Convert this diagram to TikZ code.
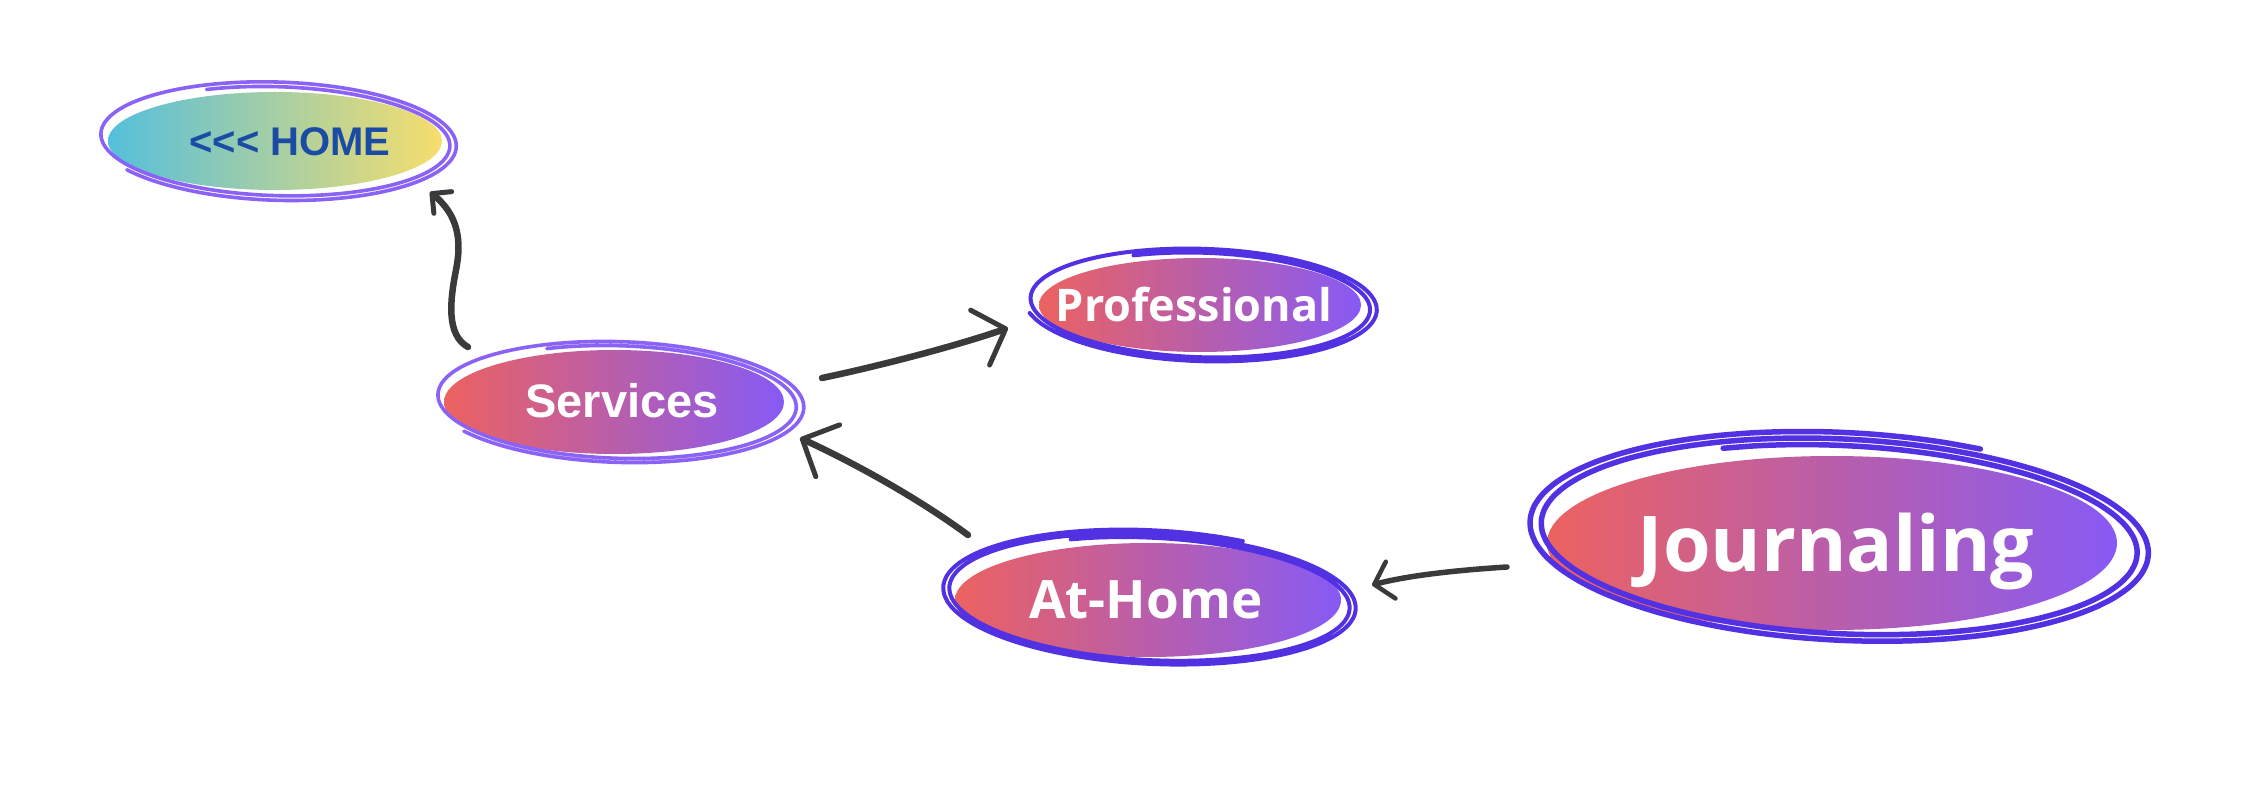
\documentclass[tikz,border=0pt]{standalone}
\usepackage{fontspec}
\setmainfont{Liberation Sans}
\newfontfamily\osans{Open Sans}
\usetikzlibrary{shapes.geometric,arrows.meta}
\definecolor{gradL}{HTML}{EC6260}
\definecolor{gradR}{HTML}{875AF5}
\definecolor{homeL}{HTML}{55BFDC}
\definecolor{homeR}{HTML}{F6DE6C}
\definecolor{hometext}{HTML}{1C4BA5}
\definecolor{ringL}{HTML}{8A63F6}
\definecolor{ringD}{HTML}{5231E2}
\definecolor{arrowcol}{HTML}{3A3A3A}
% #1 node, #2 rx0, #3 ry0, #4 drx, #5 dry, #6 sweep, #7 rotation, #8 style, #9 shift
\newcommand\sketchring[9]{%
  \begin{scope}[shift={(#1.center)}, shift={#9}, rotate=#7]
    \draw[#8, line cap=round, line join=round]
      plot[smooth, samples=110, domain=245:245+#6]
      ({(#2+#4*((\x-245)/#6))*cos(\x)}, {(#3+#5*((\x-245)/#6))*sin(\x)});
  \end{scope}}
\begin{document}
\begin{tikzpicture}[x=1pt, y=-1pt,
  blob/.style={ellipse, draw=none, inner sep=0pt},
  grad/.style={blob, left color=gradL, right color=gradR},
  txt/.style={inner sep=0pt, text depth=0pt, text=white},
  arr/.style={draw=arrowcol, line width=6.5pt, line cap=round, line join=round},
  lightring/.style={draw=ringL, line width=3.6pt},
  darkring/.style={draw=ringD, line width=4pt},
  thickring/.style={draw=ringD, line width=5.5pt}]
\fill[white] (0,0) rectangle (2246,810);
\useasboundingbox (0,0) rectangle (2246,810);

% filled ellipses
\node[blob, left color=homeL, right color=homeR, minimum width=334pt, minimum height=98pt] (home) at (275,141) {};
\node[grad, minimum width=340pt, minimum height=104pt] (services) at (614,402) {};
\node[grad, minimum width=322pt, minimum height=94pt] (prof) at (1200,305) {};
\node[grad, minimum width=386pt, minimum height=114pt] (athome) at (1148,600) {};
\node[grad, minimum width=570pt, minimum height=174pt] (journ) at (1832,543) {};

% sketchy outlines
\sketchring{home}{171}{53}{11}{8}{620}{-2}{lightring}{(2,-1)}
\sketchring{services}{175}{55}{13}{7}{620}{-2}{lightring}{(5,-1)}
\sketchring{prof}{166}{51}{12}{7}{640}{-2}{darkring}{(2,-1)}
\sketchring{athome}{197}{60}{13}{8}{770}{-3}{darkring}{(3,-2)}
\sketchring{journ}{292}{92}{24}{14}{770}{-3}{thickring}{(10,-5)}

% labels
\node[txt, text=hometext, text height=28.6pt, font=\fontsize{40}{44}\bfseries\selectfont] (home-t) at (290,141) {<\kern0pt<\kern0pt< HOME};
\node[txt, text height=33.7pt, font=\fontsize{47}{52}\bfseries\selectfont] (services-t) at (622,401) {Services};
\node[txt, text height=32pt, font=\osans\fontsize{45}{50}\bfseries\selectfont] (prof-t) at (1194,305) {Professional};
\node[txt, text height=37.8pt, font=\osans\fontsize{53}{58}\bfseries\selectfont] (athome-t) at (1146,600) {At-Home};
\node[txt, text height=55pt, font=\osans\fontsize{77}{85}\bfseries\selectfont] (journ-t) at (1836,544) {Journaling};

% connector end points
\coordinate (a1s) at ([shift={(-146,-55)}]services.center);
\coordinate (a1e) at ([shift={(155,51)}]home.center);
\coordinate (a2s) at ([shift={(208,-24)}]services.center);
\coordinate (a2e) at ([shift={(-192,23)}]prof.center);
\coordinate (a3s) at ([shift={(-180,-65)}]athome.center);
\coordinate (a3e) at ([shift={(186,36)}]services.center);
\coordinate (a4s) at ([shift={(-325,24)}]journ.center);
\coordinate (a4e) at ([shift={(224,-15)}]athome.center);

% connectors
\draw[arr, -{Straight Barb[length=14pt, width=28pt, line width=5pt, round]}]
  (a1s) .. controls (446,335) and (450,300) .. (456,270)
        .. controls (462,240) and (458,215) .. (a1e);
\draw[arr, -{Straight Barb[length=27pt, width=58pt, line width=5pt, round]}]
  (a2s) .. controls (870,368) and (950,348) .. (a2e);
\draw[arr, -{Straight Barb[length=28pt, width=57pt, line width=5pt, round]}]
  (a3s) .. controls (915,496) and (850,461) .. (a3e);
\draw[arr, line width=5.5pt, -{Straight Barb[length=17pt, width=38pt, line width=4.5pt, round]}]
  (a4s) .. controls (1460,570) and (1410,575) .. (a4e);
\end{tikzpicture}
\end{document}
